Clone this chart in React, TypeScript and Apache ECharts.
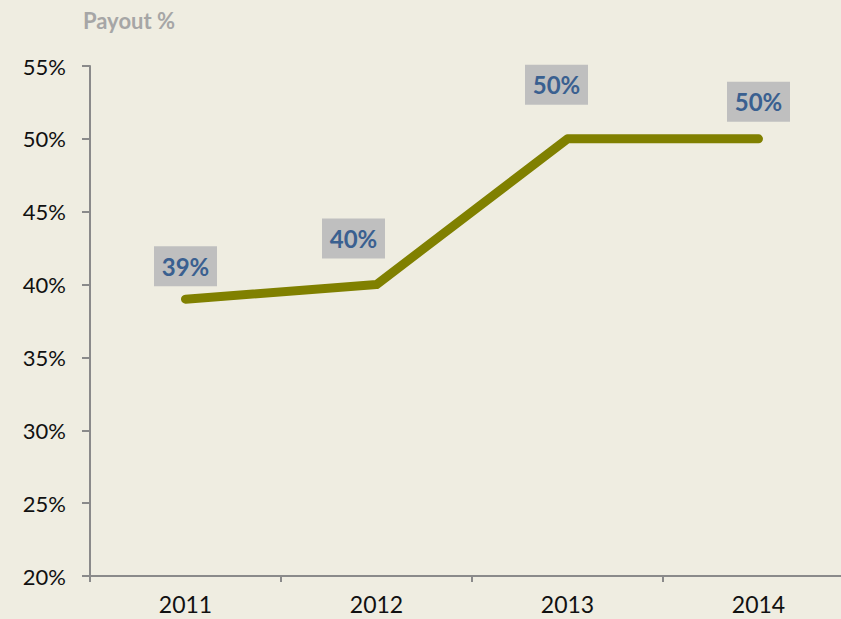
import React, { useEffect, useRef } from "react";
import * as echarts from "echarts";

const categories = ["2011", "2012", "2013", "2014"];
const payout = [39, 40, 50, 50];
const labelOffsets = [
  [0, -33],
  [-23, -46],
  [-11, -54],
  [0, -37],
];
const yTicks = { min: 20, max: 55, interval: 5 };

export default function App() {
  const ref = useRef<HTMLDivElement>(null);
  useEffect(() => {
    if (!ref.current) return;
    const chart = echarts.init(ref.current, null, { renderer: "svg" });
    chart.setOption({
      animation: false,
      backgroundColor: "#efede1",
      textStyle: { fontFamily: "Lato" },
      title: {
        text: "Payout %",
        left: 78,
        top: 4,
        textStyle: { fontSize: 22, fontWeight: "bold", color: "#a6a6a6", fontFamily: "Lato" },
      },
      grid: {
        left: 90,
        width: 764,
        top: 66,
        bottom: 43,
        containLabel: false,
        outerBoundsMode: "none",
      },
      xAxis: {
        type: "category",
        data: categories,
        boundaryGap: true,
        axisLine: { lineStyle: { color: "#8a8a8a", width: 2 } },
        axisTick: { show: true, length: 6, lineStyle: { color: "#8a8a8a", width: 2 } },
        axisLabel: { fontSize: 23, color: "#111", margin: 16, fontFamily: "Lato" },
        splitLine: { show: false },
      },
      yAxis: {
        type: "value",
        min: yTicks.min,
        max: yTicks.max,
        interval: yTicks.interval,
        axisLine: { show: true, lineStyle: { color: "#8a8a8a", width: 2 } },
        axisTick: { show: true, length: 8, lineStyle: { color: "#8a8a8a", width: 2 } },
        axisLabel: { fontSize: 22, color: "#111", margin: 24, formatter: "{value}%", fontFamily: "Lato" },
        splitLine: { show: false },
      },
      series: [
        {
          type: "line",
          data: payout.map((v, i) => ({
            value: v,
            label: { offset: labelOffsets[i] },
          })),
          showSymbol: true,
          symbol: "circle",
          symbolSize: 0,
          itemStyle: { color: "#808000" },
          lineStyle: { color: "#808000", width: 9, cap: "round", join: "round" },
          label: {
            show: true,
            position: "inside",
            formatter: "{c}%",
            fontSize: 24,
            fontWeight: "bold",
            color: "#3a6090",
            fontFamily: "Lato",
            backgroundColor: "#bfbfbf",
            width: 47,
            align: "center",
            verticalAlign: "middle",
            lineHeight: 22,
            padding: [9, 8],
          },
        },
      ],
    });
    return () => chart.dispose();
  }, []);
  return (
    <div
      ref={ref}
      style={{ position: "fixed", left: 0, top: 0, width: 841, height: 619 }}
    />
  );
}
